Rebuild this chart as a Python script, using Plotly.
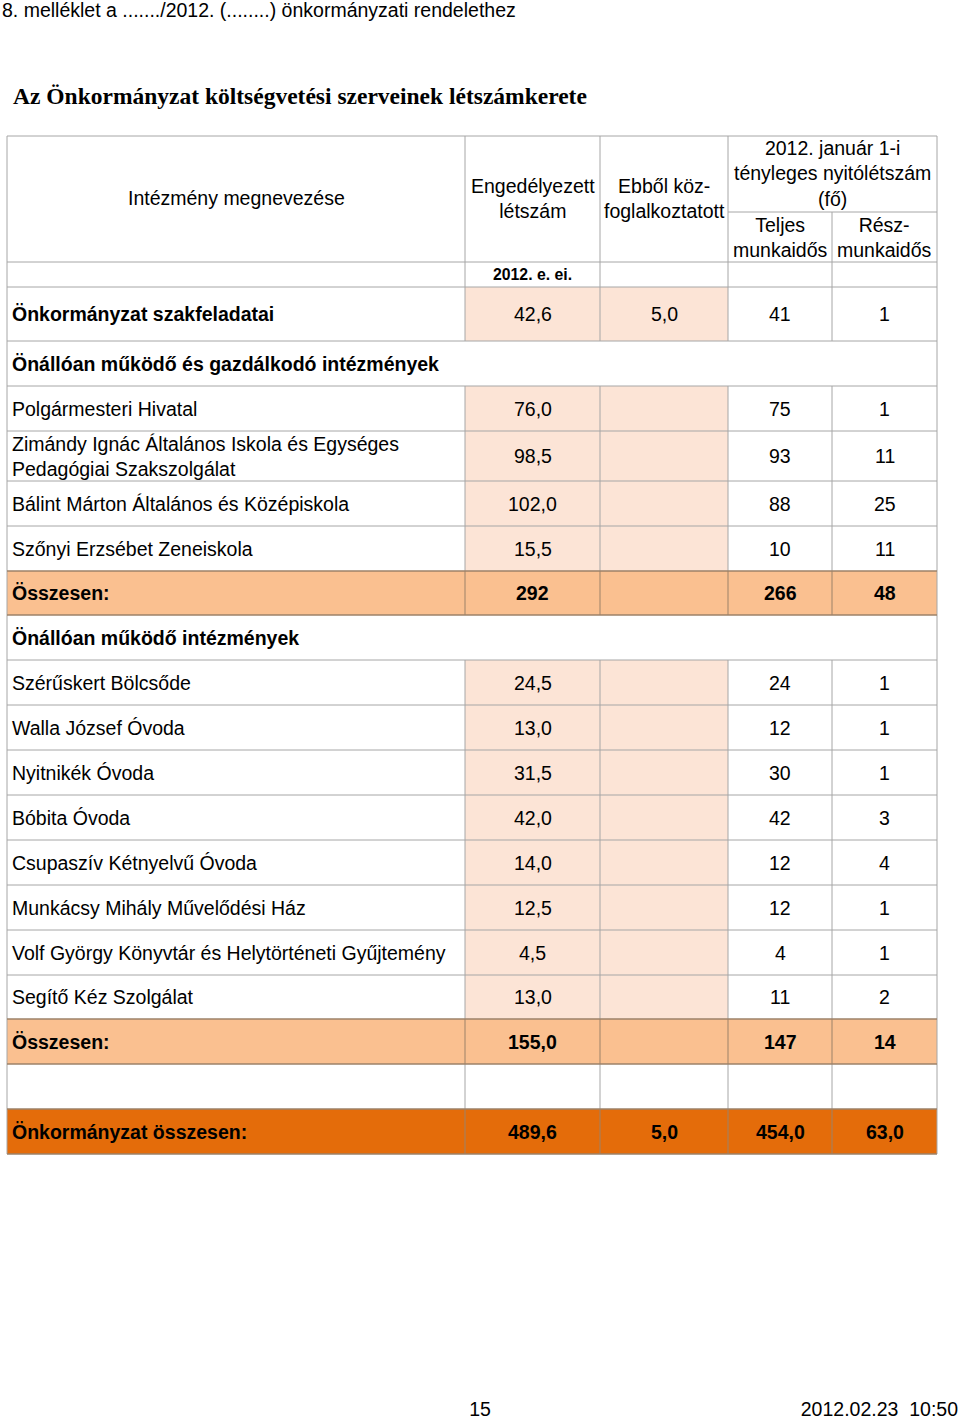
import plotly.graph_objects as go

# ---------------- data ----------------
row_labels = [
    "Önkormányzat szakfeladatai",
    "Önállóan működő és gazdálkodó intézmények",
    "Polgármesteri Hivatal",
    "Zimándy Ignác Általános Iskola és Egységes<br>Pedagógiai Szakszolgálat",
    "Bálint Márton Általános és Középiskola",
    "Szőnyi Erzsébet Zeneiskola",
    "Összesen:",
    "Önállóan működő intézmények",
    "Szérűskert Bölcsőde",
    "Walla József Óvoda",
    "Nyitnikék Óvoda",
    "Bóbita Óvoda",
    "Csupaszív Kétnyelvű Óvoda",
    "Munkácsy Mihály Művelődési Ház",
    "Volf György Könyvtár és Helytörténeti Gyűjtemény",
    "Segítő Kéz Szolgálat",
    "Összesen:",
    "",
    "Önkormányzat összesen:",
]
row_kind = ["szak", "group", "item", "item", "item", "item", "subtotal", "group",
            "item", "item", "item", "item", "item", "item", "item", "item",
            "subtotal", "blank", "grand"]
engedelyezett = ["42,6", "", "76,0", "98,5", "102,0", "15,5", "292", "",
                 "24,5", "13,0", "31,5", "42,0", "14,0", "12,5", "4,5", "13,0",
                 "155,0", "", "489,6"]
kozfoglalkoztatott = ["5,0", "", "", "", "", "", "", "",
                      "", "", "", "", "", "", "", "",
                      "", "", "5,0"]
teljes = ["41", "", "75", "93", "88", "10", "266", "",
          "24", "12", "30", "42", "12", "12", "4", "11",
          "147", "", "454,0"]
resz = ["1", "", "1", "11", "25", "11", "48", "",
        "1", "1", "1", "3", "4", "1", "1", "2",
        "14", "", "63,0"]

header_name = "Intézmény megnevezése"
header_eng = "Engedélyezett<br>létszám"
header_koz = "Ebből köz-<br>foglalkoztatott"
header_jan = "2012. január 1-i<br>tényleges nyitólétszám<br>(fő)"
header_telj = "Teljes<br>munkaidős"
header_resz = "Rész-<br>munkaidős"
header_year = "2012. e. ei."
top_note = "8. melléklet a ......./2012. (........) önkormányzati rendelethez"
title = "Az Önkormányzat költségvetési szerveinek létszámkerete"
page_no = "15"
stamp = "2012.02.23  10:50"

# ---------------- layout geometry ----------------
W, H = 960, 1420
col_x = [7, 465, 600, 728, 832, 937]
hdr_top, hdr_mid, hdr_year_top, body_top = 136, 212, 262, 287
row_h = [54, 45, 45, 50, 45, 45, 44, 45, 45, 45, 45, 45, 45, 45, 45, 44, 45, 45, 45]

PEACH = "#FCE4D6"
SUB = "#FAC090"
GRAND = "#E46C0A"
GRID = "#A6A6A6"
DARK = "#9C8268"
FONT = "Liberation Sans, Arial, sans-serif"
FS = 19.5

shapes = []
ann = []


def line(x0, y0, x1, y1, color=GRID, w=1):
    shapes.append(dict(type="line", xref="x", yref="y", x0=x0, y0=y0, x1=x1, y1=y1,
                       line=dict(color=color, width=w), layer="above"))


def rect(x0, y0, x1, y1, color):
    shapes.append(dict(type="rect", xref="x", yref="y", x0=x0, y0=y0, x1=x1, y1=y1,
                       fillcolor=color, line=dict(width=0), layer="below"))


def text(x, y, s, size=FS, bold=False, anchor="center", family=FONT, color="black"):
    if bold:
        s = "<b>" + s + "</b>"
    ann.append(dict(xref="x", yref="y", x=x, y=y, text=s, showarrow=False,
                    xanchor=anchor, yanchor="middle", align=anchor if anchor != "center" else "center",
                    font=dict(size=size, family=family, color=color)))


# header borders
for x in col_x[:4] + [col_x[5]]:
    line(x, hdr_top, x, body_top)
line(col_x[4], hdr_mid, col_x[4], body_top)
line(col_x[0], hdr_top, col_x[5], hdr_top)
line(col_x[3], hdr_mid, col_x[5], hdr_mid)
line(col_x[0], hdr_year_top, col_x[5], hdr_year_top)

text((col_x[0] + col_x[1]) / 2, 198, header_name)
text((col_x[1] + col_x[2]) / 2, 198, header_eng)
text((col_x[2] + col_x[3]) / 2, 198, header_koz)
text((col_x[3] + col_x[5]) / 2, 173, header_jan)
text((col_x[3] + col_x[4]) / 2, 237, header_telj)
text((col_x[4] + col_x[5]) / 2, 237, header_resz)
text((col_x[1] + col_x[2]) / 2, 274, header_year, size=15.8, bold=True)

# body
y = body_top
bounds = []
for i, h in enumerate(row_h):
    y0, y1 = y, y + h
    bounds.append((y0, y1))
    kind = row_kind[i]
    if kind in ("szak", "item"):
        rect(col_x[1], y0, col_x[3], y1, PEACH)
    elif kind == "subtotal":
        rect(col_x[0], y0, col_x[5], y1, SUB)
    elif kind == "grand":
        rect(col_x[0], y0, col_x[5], y1, GRAND)
    line(col_x[0], y0, col_x[0], y1)
    line(col_x[5], y0, col_x[5], y1)
    if kind != "group":
        for x in col_x[1:5]:
            line(x, y0, x, y1, DARK if kind in ("subtotal", "grand") else GRID)
    y = y1

for i, (y0, y1) in enumerate(bounds):
    c = DARK if row_kind[i] in ("subtotal", "grand") or (i > 0 and row_kind[i - 1] in ("subtotal", "grand")) else GRID
    line(col_x[0], y0, col_x[5], y0, c, 1.5 if c == DARK else 1)
line(col_x[0], bounds[-1][1], col_x[5], bounds[-1][1], DARK, 1.5)

for i, (y0, y1) in enumerate(bounds):
    kind = row_kind[i]
    yc = (y0 + y1) / 2
    bold = kind in ("szak", "group", "subtotal", "grand")
    if row_labels[i]:
        text(col_x[0] + 3, yc, row_labels[i], bold=bold, anchor="left")
    vals = [engedelyezett[i], kozfoglalkoztatott[i], teljes[i], resz[i]]
    vb = kind in ("subtotal", "grand")
    for j, v in enumerate(vals):
        if v:
            text((col_x[j + 1] + col_x[j + 2]) / 2, yc, v, bold=vb)

# page texts
text(11, 96, "<b>" + title + "</b>", size=23.5, anchor="left",
     family="Liberation Serif, Times New Roman, serif")

fig = go.Figure()
fig.add_trace(go.Scatter(x=[0, W], y=[0, H], mode="markers",
                         marker=dict(opacity=0), hoverinfo="skip", showlegend=False))
# top note and footer as text traces (never auto-hidden near edges)
fig.add_trace(go.Scatter(x=[2], y=[12], mode="text", text=[top_note],
                         textposition="middle right", cliponaxis=False,
                         textfont=dict(size=FS, family=FONT, color="black"),
                         hoverinfo="skip", showlegend=False))
fig.add_trace(go.Scatter(x=[480, 958], y=[1411, 1411], mode="text", text=[page_no, stamp],
                         textposition=["middle center", "middle left"], cliponaxis=False,
                         textfont=dict(size=FS, family=FONT, color="black"),
                         hoverinfo="skip", showlegend=False))
fig.update_layout(
    width=W, height=H, margin=dict(l=0, r=0, t=0, b=0),
    paper_bgcolor="white", plot_bgcolor="white",
    xaxis=dict(range=[0, W], visible=False, fixedrange=True),
    yaxis=dict(range=[H, 0], visible=False, fixedrange=True),
    shapes=shapes, annotations=ann, showlegend=False,
)
fig.write_html("out.html", config={"displayModeBar": False},
               post_script="document.body.style.margin='0';")
